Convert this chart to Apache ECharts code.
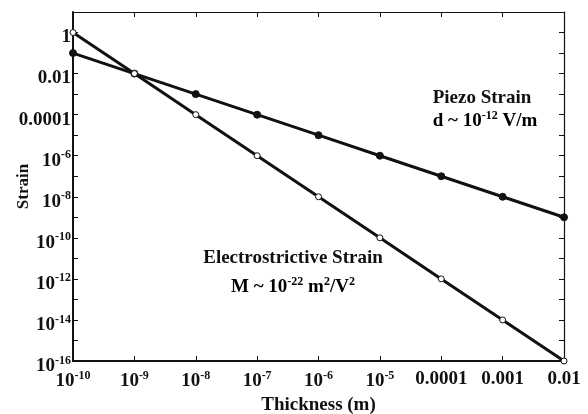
<!DOCTYPE html>
<html>
<head>
<meta charset="utf-8">
<script src="https://cdn.jsdelivr.net/npm/echarts@6/dist/echarts.min.js"></script>
<style>
  html, body { margin: 0; padding: 0; background: #fff; }
  #chart { width: 588px; height: 414px; }
</style>
</head>
<body>
<div id="chart"></div>
<script>
// Film thickness (m), one point per decade
const thickness = [1e-10, 1e-9, 1e-8, 1e-7, 1e-6, 1e-5, 1e-4, 1e-3, 1e-2];
// Piezoelectric strain, d ~ 1e-12 V/m
const piezoStrain = [1e-1, 1e-2, 1e-3, 1e-4, 1e-5, 1e-6, 1e-7, 1e-8, 1e-9];
// Electrostrictive strain, M ~ 1e-22 m^2/V^2
const electroStrain = [1, 1e-2, 1e-4, 1e-6, 1e-8, 1e-10, 1e-12, 1e-14, 1e-16];
// Axis ranges and tick labels (exponents)
const xExpRange = [-10, -2];
const yExpRange = [-16, 1];
const xPlainLabels = { '-4': '0.0001', '-3': '0.001', '-2': '0.01' };
const yPlainLabels = { '0': '1', '-2': '0.01', '-4': '0.0001' };

const FONT = '"Liberation Serif", "DejaVu Serif", serif';
const INK = '#111';

function expOf(v) { return Math.round(Math.log10(v)); }
function powLabel(e) { return '{b|10}{s|' + e + '}'; }

// Bold base text with a raised, smaller superscript
function richSet(size, supSize, lift) {
  return {
    b: { fontFamily: FONT, fontWeight: 'bold', fontSize: size, color: INK },
    s: { fontFamily: FONT, fontWeight: 'bold', fontSize: supSize, color: INK, padding: [0, 0, lift, 0] },
    p: { fontFamily: FONT, fontWeight: 'bold', fontSize: size, color: INK }
  };
}

const chart = echarts.init(document.getElementById('chart'), null, { renderer: 'canvas' });

const mainLine = { show: true, lineStyle: { color: INK, width: 2 } };
const sideLine = { show: true, lineStyle: { color: INK, width: 1.2 } };
const axisTick = { show: true, inside: true, length: 5, lineStyle: { color: INK, width: 1 } };

const xPairs = (ys) => thickness.map((t, i) => [t, ys[i]]);

chart.setOption({
  animation: false,
  backgroundColor: '#fff',
  grid: { left: 73, right: 24, top: 12, bottom: 53, containLabel: false, outerBoundsMode: 'none' },
  xAxis: [
    {
      type: 'log', logBase: 10,
      min: Math.pow(10, xExpRange[0]), max: Math.pow(10, xExpRange[1]),
      interval: 1,
      name: 'Thickness (m)', nameLocation: 'middle', nameGap: 33,
      nameTextStyle: { fontFamily: FONT, fontWeight: 'bold', fontSize: 19, color: INK },
      axisLine: mainLine, axisTick, splitLine: { show: false }, minorTick: { show: false },
      axisLabel: {
        margin: 9,
        formatter: (v) => {
          const e = expOf(v);
          return xPlainLabels[e] !== undefined ? '{p|' + xPlainLabels[e] + '}' : powLabel(e);
        },
        rich: richSet(19, 12, 11)
      }
    },
    {
      type: 'log', logBase: 10, position: 'top',
      min: Math.pow(10, xExpRange[0]), max: Math.pow(10, xExpRange[1]),
      interval: 1,
      axisLine: sideLine, axisTick, axisLabel: { show: false }, splitLine: { show: false }
    }
  ],
  yAxis: [
    {
      type: 'log', logBase: 10,
      min: Math.pow(10, yExpRange[0]), max: Math.pow(10, yExpRange[1]),
      interval: 1,
      name: 'Strain', nameLocation: 'middle', nameGap: 41, nameRotate: 90,
      nameMoveOverlap: false,
      nameTextStyle: { fontFamily: FONT, fontWeight: 'bold', fontSize: 17, color: INK },
      axisLine: mainLine, axisTick, splitLine: { show: false },
      axisLabel: {
        margin: 2,
        padding: [10, 0, 0, 0],
        formatter: (v) => {
          const e = expOf(v);
          if (e % 2 !== 0) return '';
          return yPlainLabels[e] !== undefined ? '{p|' + yPlainLabels[e] + '}' : powLabel(e);
        },
        rich: richSet(19, 12, 11)
      }
    },
    {
      type: 'log', logBase: 10, position: 'right',
      min: Math.pow(10, yExpRange[0]), max: Math.pow(10, yExpRange[1]),
      interval: 1,
      axisLine: sideLine, axisTick, axisLabel: { show: false }, splitLine: { show: false }
    }
  ],
  series: [
    {
      name: 'Piezo Strain', type: 'line',
      data: xPairs(piezoStrain),
      symbol: 'circle', symbolSize: 7,
      lineStyle: { color: INK, width: 3 },
      itemStyle: { color: INK, borderColor: INK, borderWidth: 1 },
      z: 3
    },
    {
      name: 'Electrostrictive Strain', type: 'line',
      data: xPairs(electroStrain),
      symbol: 'circle', symbolSize: 6,
      lineStyle: { color: INK, width: 3 },
      itemStyle: { color: '#fff', borderColor: INK, borderWidth: 1 },
      z: 3
    }
  ],
  graphic: [
    {
      type: 'text', x: 482, y: 98,
      style: { text: 'Piezo Strain', font: 'bold 19px ' + FONT, fill: INK, align: 'center', verticalAlign: 'middle' }
    },
    {
      type: 'text', x: 485, y: 121,
      style: {
        text: '{b|d ~ 10}{s|-12}{b| V/m}', align: 'center', verticalAlign: 'middle',
        rich: richSet(19, 12, 11)
      }
    },
    {
      type: 'text', x: 293, y: 258,
      style: { text: 'Electrostrictive Strain', font: 'bold 19px ' + FONT, fill: INK, align: 'center', verticalAlign: 'middle' }
    },
    {
      type: 'text', x: 293, y: 287,
      style: {
        text: '{b|M ~ 10}{s|-22}{b| m}{s|2}{b|/V}{s|2}', align: 'center', verticalAlign: 'middle',
        rich: richSet(19, 12, 11)
      }
    }
  ]
});
</script>
</body>
</html>
